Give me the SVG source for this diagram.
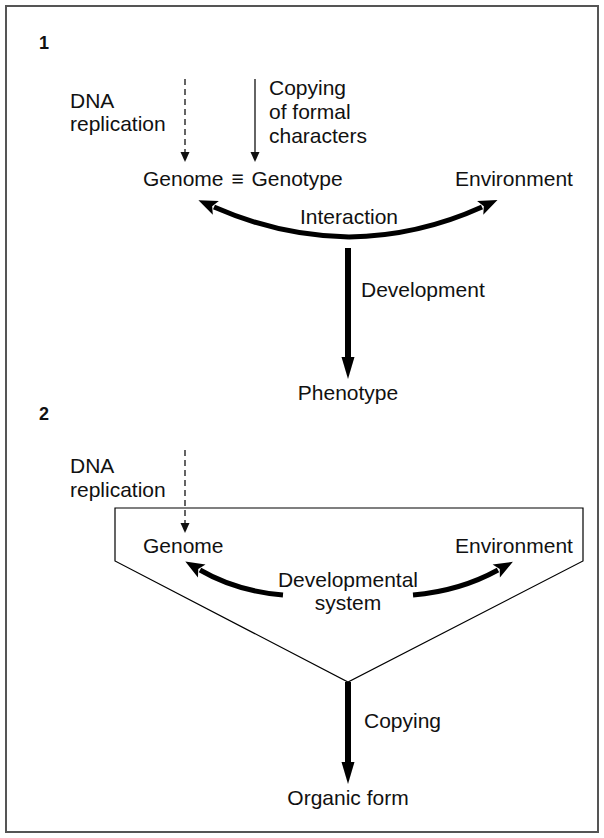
<svg xmlns="http://www.w3.org/2000/svg" width="604" height="838" viewBox="0 0 604 838">
<defs>
<style>
text{font-family:"Liberation Sans",Arial,sans-serif;font-size:21px;fill:#111}
.num{font-weight:bold;font-size:18px}
.mid{text-anchor:middle}
.thin{stroke:#111;stroke-width:1.3;fill:none}
.dash{stroke:#111;stroke-width:1.3;fill:none;stroke-dasharray:6 4}
.thick{stroke:#000;stroke-width:5;fill:none}
.vthick{stroke:#000;stroke-width:6;fill:none}
.box{stroke:#000;stroke-width:1.2;fill:none}
</style>
<marker id="hs" markerUnits="userSpaceOnUse" markerWidth="12" markerHeight="12" refX="0" refY="4.5" orient="auto" overflow="visible">
<path d="M0,0 L10,4.5 L0,9 Z" fill="#111"/>
</marker>
<marker id="hc" markerUnits="userSpaceOnUse" markerWidth="22" markerHeight="16" refX="2" refY="7.5" orient="auto" overflow="visible">
<path d="M0,0 L19,7.5 L0,15 L4,7.5 Z" fill="#000"/>
</marker>
<marker id="hv" markerUnits="userSpaceOnUse" markerWidth="24" markerHeight="14" refX="1" refY="6.5" orient="auto" overflow="visible">
<path d="M0,0 L22,6.5 L0,13 Z" fill="#000"/>
</marker>
</defs>
<rect x="6" y="6" width="592" height="826" fill="#fff" stroke="#555" stroke-width="2"/>

<g id="label-1"><text class="num" x="39" y="49">1</text></g>
<g id="label-2"><text class="num" x="39" y="420">2</text></g>

<g id="connectors">
<line class="dash" x1="185" y1="79" x2="185" y2="152" marker-end="url(#hs)"/>
<line class="thin" x1="255" y1="79" x2="255" y2="152" marker-end="url(#hs)"/>
<path class="thick" d="M349,237 Q280,236 214,207" marker-end="url(#hc)"/>
<path class="thick" d="M349,237 Q418,236 482,207" marker-end="url(#hc)"/>
<line class="vthick" x1="348" y1="248" x2="348" y2="358" marker-end="url(#hv)"/>
<line class="dash" x1="185" y1="450" x2="185" y2="523" marker-end="url(#hs)"/>
<path class="thick" d="M283,595 Q236,591 200,570" marker-end="url(#hc)"/>
<path class="thick" d="M413,595 Q460,591 498,570" marker-end="url(#hc)"/>
<line class="vthick" x1="348" y1="682" x2="348" y2="763" marker-end="url(#hv)"/>
</g>

<g id="dna-1"><text x="70" y="108">DNA</text><text x="70" y="131">replication</text></g>
<g id="copying-formal"><text x="269" y="95">Copying</text><text x="269" y="119">of formal</text><text x="269" y="143">characters</text></g>
<g id="genome-genotype"><text x="143" y="186">Genome <tspan dx="2">≡</tspan><tspan dx="2"> Genotype</tspan></text></g>
<g id="environment-1"><text x="455" y="186">Environment</text></g>
<g id="interaction"><text class="mid" x="349" y="224">Interaction</text></g>
<g id="development"><text x="361" y="297">Development</text></g>
<g id="phenotype"><text class="mid" x="348" y="400">Phenotype</text></g>

<g id="developmental-system">
<polygon class="box" points="115,508 583,508 583,561 348,682 115,561"/>
<text class="mid" x="348" y="587">Developmental</text><text class="mid" x="348" y="610">system</text>
</g>
<g id="dna-2"><text x="70" y="473">DNA</text><text x="70" y="497">replication</text></g>
<g id="genome-2"><text x="143" y="553">Genome</text></g>
<g id="environment-2"><text x="455" y="553">Environment</text></g>
<g id="copying"><text x="364" y="728">Copying</text></g>
<g id="organic-form"><text class="mid" x="348" y="805">Organic form</text></g>
</svg>
